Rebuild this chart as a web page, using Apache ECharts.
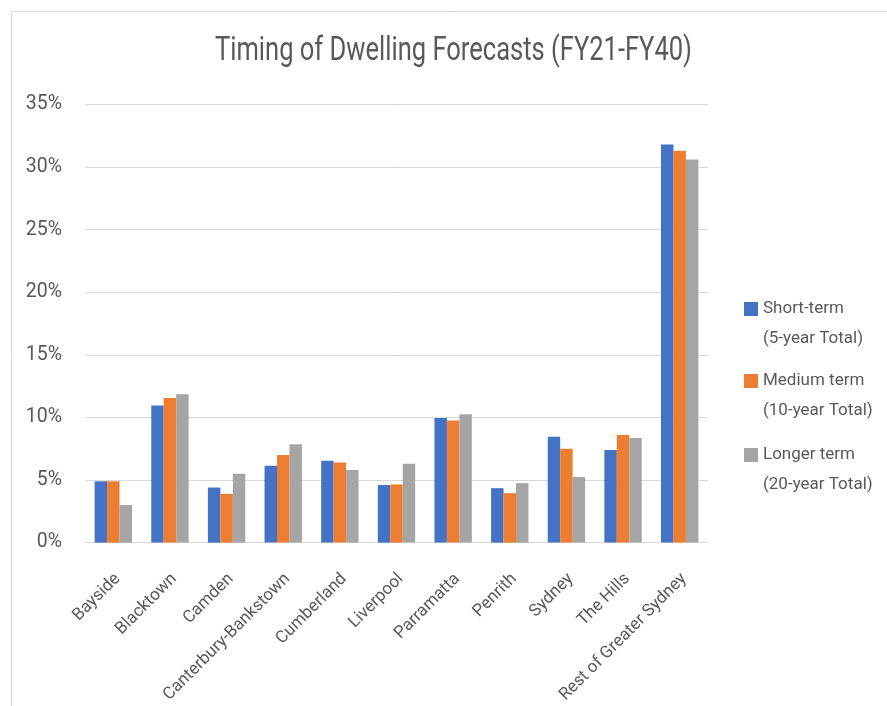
<!DOCTYPE html>
<html>
<head>
<meta charset="utf-8">
<title>Timing of Dwelling Forecasts (FY21-FY40)</title>
<script src="https://cdn.jsdelivr.net/npm/echarts@6.0.0/dist/echarts.min.js"></script>
<style>
  html, body { margin: 0; padding: 0; background: #ffffff; }
  #chart { width: 887px; height: 706px; }
</style>
</head>
<body>
<div id="chart"></div>
<script>
// Local government areas along the category axis
const categories = [
  'Bayside', 'Blacktown', 'Camden', 'Canterbury-Bankstown', 'Cumberland',
  'Liverpool', 'Parramatta', 'Penrith', 'Sydney', 'The Hills', 'Rest of Greater Sydney'
];

// Share of forecast dwellings (%) for each horizon
const shortTerm  = [4.9, 10.95, 4.4, 6.15, 6.55, 4.6, 9.95, 4.35, 8.45, 7.4, 31.8];
const mediumTerm = [4.9, 11.55, 3.9, 7.0, 6.4, 4.65, 9.75, 3.95, 7.5, 8.6, 31.3];
const longerTerm = [3.0, 11.85, 5.5, 7.85, 5.8, 6.3, 10.25, 4.75, 5.25, 8.35, 30.6];

// Series names, each shown over two legend lines
const seriesNames = ['Short-term', 'Medium term', 'Longer term'];
const seriesTotals = ['(5-year Total)', '(10-year Total)', '(20-year Total)'];

// Value-axis ticks (%)
const yTicks = [0, 5, 10, 15, 20, 25, 30, 35];

const chartTitle = 'Timing of Dwelling Forecasts (FY21-FY40)';

const TEXT = '#595959';
const GRID = '#d9d9d9';
const COLORS = ['#4472C4', '#ED7D31', '#A5A5A5'];
const FONT = 'Roboto, "Noto Sans", sans-serif';

// The title is set in a narrow face: squeeze regular Roboto to the same width
const TITLE_SIZE = 34;
const TITLE_WIDTH = 477;
const measure = document.createElement('canvas').getContext('2d');
measure.font = TITLE_SIZE + 'px Roboto';
const titleScale = TITLE_WIDTH / measure.measureText(chartTitle).width;

// Legend entries: an empty first line keeps the swatch level with the name line
const LH = 30;
const legendTops = [264, 336, 410];
const legends = seriesNames.map((name, i) => ({
  orient: 'vertical',
  left: 744,
  top: legendTops[i],
  padding: 0,
  itemWidth: 14,
  itemHeight: 14,
  icon: 'rect',
  data: [name],
  formatter: n => '\n' + n + '\n' + seriesTotals[i],
  textStyle: { fontFamily: FONT, fontSize: 17, lineHeight: LH, color: TEXT }
}));

const chart = echarts.init(document.getElementById('chart'), null, { renderer: 'canvas' });

chart.setOption({
  animation: false,
  color: COLORS,
  textStyle: { fontFamily: FONT },
  graphic: [
    {
      type: 'rect',
      silent: true,
      shape: { x: 11.5, y: 11.5, width: 1000, height: 1000 },
      style: { fill: 'none', stroke: GRID, lineWidth: 1 }
    },
    {
      type: 'text',
      silent: true,
      x: 453.5,
      y: 51,
      scaleX: titleScale,
      scaleY: 1,
      style: {
        text: chartTitle,
        fontSize: TITLE_SIZE,
        fontFamily: 'Roboto',
        fill: TEXT,
        align: 'center',
        verticalAlign: 'middle'
      }
    }
  ],
  grid: { left: 85, right: 179, top: 104.5, bottom: 162.5, containLabel: false },
  legend: legends,
  xAxis: {
    type: 'category',
    data: categories,
    axisTick: { show: false },
    axisLine: { lineStyle: { color: GRID, width: 1 } },
    axisLabel: {
      interval: 0,
      rotate: 45,
      margin: 38,
      padding: [0, -6, 0, 0],
      color: TEXT,
      fontFamily: FONT,
      fontSize: 17
    }
  },
  yAxis: {
    type: 'value',
    min: yTicks[0],
    max: yTicks[yTicks.length - 1],
    interval: yTicks[1] - yTicks[0],
    axisLine: { show: false },
    axisTick: { show: false },
    splitLine: { lineStyle: { color: GRID, width: 1 } },
    axisLabel: {
      margin: 23,
      color: TEXT,
      fontFamily: FONT,
      fontSize: 19.5,
      formatter: '{value}%'
    }
  },
  series: [
    { name: seriesNames[0], type: 'bar', data: shortTerm, barGap: '0%', barCategoryGap: '34%' },
    { name: seriesNames[1], type: 'bar', data: mediumTerm, barGap: '0%', barCategoryGap: '34%' },
    { name: seriesNames[2], type: 'bar', data: longerTerm, barGap: '0%', barCategoryGap: '34%' }
  ]
});
</script>
</body>
</html>
